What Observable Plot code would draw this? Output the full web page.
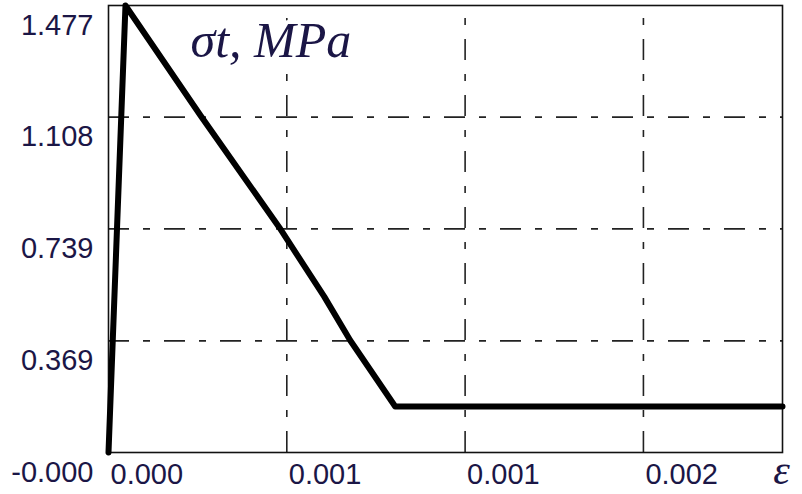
<!DOCTYPE html>
<html><head><meta charset="utf-8">
<script src="https://cdn.jsdelivr.net/npm/d3@7"></script>
<script src="https://cdn.jsdelivr.net/npm/@observablehq/plot@0.6"></script>
<style>body{margin:0;background:#fff;}</style>
</head><body><div id="chart"></div>
<script>
// strain (x) and tensile stress (y, MPa)
const strain = [0, 0.0000476, 0.000258, 0.000479, 0.000605, 0.000678, 0.000804, 0.00189];
const stress = [0, 1.477, 1.1135, 0.7435, 0.515, 0.3701, 0.152, 0.152];
const yTicks = [0, 0.369, 0.739, 1.108, 1.477];
const yLabels = ["-0.000", "0.369", "0.739", "1.108", "1.477"];
const xTicks = [0, 0.0005, 0.001, 0.0015];
const xLabels = ["0.000", "0.001", "0.001", "0.002"];
const xDomain = [0, 0.00189];
const yDomain = [0, 1.477];
const titleText = "σt, MPa";
const xName = "ε";

const pts = strain.map((x, i) => ({x, y: stress[i]}));
const xGrid = xTicks.slice(1);
const yGrid = yTicks.slice(1, -1);
const labelColor = "#1b1646";
const dash = "21,14,7,14";

const chart = Plot.plot({
  width: 802, height: 494,
  marginLeft: 108, marginRight: 20, marginTop: 5, marginBottom: 42,
  x: {domain: xDomain},
  y: {domain: yDomain},
  style: {background: "#fff"},
  marks: [
    Plot.ruleY(yGrid, {y: d => d, stroke: "#222", strokeWidth: 1.6, strokeDasharray: dash}),
    Plot.ruleX(xGrid, {x: d => d, y1: yDomain[0], y2: yDomain[1], stroke: "#222", strokeWidth: 1.6, strokeDasharray: dash}),
    Plot.frame({stroke: "#111", strokeWidth: 1.6}),
    Plot.text([titleText], {text: d => d, frameAnchor: "top-left", textAnchor: "start", lineAnchor: "bottom",
      dx: 82, dy: 51, fontSize: 50, fontStyle: "italic", fontFamily: "Liberation Serif",
      fill: labelColor, stroke: "white", strokeWidth: 8, paintOrder: "stroke",
      style: "letter-spacing:2px"}),
    Plot.line(pts, {x: "x", y: "y", stroke: "black", strokeWidth: 6, strokeLinejoin: "round"}),
    Plot.axisY(yTicks, {anchor: "left", tickSize: 0, tickPadding: 15, dy: 20, fontSize: 29,
      fontFamily: "Liberation Sans", color: labelColor, label: null,
      tickFormat: d => yLabels[yTicks.indexOf(d)]}),
    Plot.axisX(xTicks, {anchor: "bottom", tickSize: 0, tickPadding: 11, dx: 2, textAnchor: "start", fontSize: 29,
      fontFamily: "Liberation Sans", color: labelColor, label: null,
      tickFormat: d => xLabels[xTicks.indexOf(d)]}),
    Plot.text([xName], {text: d => d, frameAnchor: "bottom-right", textAnchor: "middle", lineAnchor: "bottom",
      dx: -1, dy: 31, fontSize: 42, fontStyle: "italic", fontFamily: "Liberation Serif", fill: labelColor})
  ]
});
document.getElementById("chart").append(chart);
</script>
</body></html>
